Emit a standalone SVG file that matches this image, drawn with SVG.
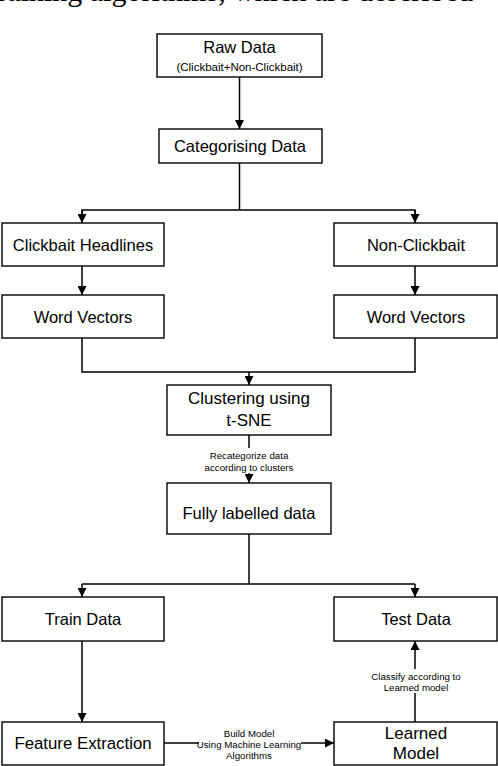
<svg xmlns="http://www.w3.org/2000/svg" width="498" height="766" viewBox="0 0 498 766">
<defs>
<style>
.box{fill:#fff;stroke:#000;stroke-width:1.4}
.t{font-family:"Liberation Sans",Arial,sans-serif;font-size:16.5px;fill:#000;text-anchor:middle}
.s{font-family:"Liberation Sans",Arial,sans-serif;font-size:9.7px;fill:#000;text-anchor:middle}
.ln{fill:none;stroke:#000;stroke-width:1.5}
.bg{fill:#fff;stroke:none}
</style>
<marker id="ah" viewBox="0 0 10 10" refX="10" refY="5" markerWidth="9" markerHeight="9" markerUnits="userSpaceOnUse" orient="auto">
<path d="M0,0 L10,5 L0,10 z" fill="#000"/>
</marker>
</defs>
<rect width="498" height="766" fill="#fff"/>
<text x="-11" y="1" font-family="'Liberation Serif','Times New Roman',serif" font-size="30" fill="#000">training algorithms, which are described</text>

<g id="connectors">
<line class="ln" x1="239.5" y1="77" x2="239.5" y2="129" marker-end="url(#ah)"/>
<polyline class="ln" points="239.5,163 239.5,210"/>
<polyline class="ln" points="82,222.5 82,210 415,210 415,222.5"/>
<line class="ln" x1="82" y1="210" x2="82" y2="223" marker-end="url(#ah)"/>
<line class="ln" x1="415" y1="210" x2="415" y2="223" marker-end="url(#ah)"/>
<line class="ln" x1="82" y1="266" x2="82" y2="295" marker-end="url(#ah)"/>
<line class="ln" x1="415" y1="266" x2="415" y2="295" marker-end="url(#ah)"/>
<polyline class="ln" points="82,338 82,372 415,372 415,338"/>
<line class="ln" x1="249" y1="372" x2="249" y2="385" marker-end="url(#ah)"/>
<line class="ln" x1="249" y1="435" x2="249" y2="483" marker-end="url(#ah)"/>
<rect class="bg" x="205" y="448" width="90" height="25"/>
<text class="s" x="249" y="458.5">Recategorize data</text>
<text class="s" x="249" y="470.5">according to clusters</text>
<polyline class="ln" points="249,534 249,584"/>
<polyline class="ln" points="82,584 415,584"/>
<line class="ln" x1="82" y1="584" x2="82" y2="597" marker-end="url(#ah)"/>
<line class="ln" x1="415" y1="584" x2="415" y2="597" marker-end="url(#ah)"/>
<line class="ln" x1="82" y1="641" x2="82" y2="722" marker-end="url(#ah)"/>
<line class="ln" x1="164" y1="743" x2="334" y2="743" marker-end="url(#ah)"/>
<rect class="bg" x="199" y="738" width="102" height="10"/>
<text class="s" x="249" y="736.5">Build Model</text>
<text class="s" x="249" y="747.5">Using Machine Learning</text>
<text class="s" x="249" y="758.5">Algorithms</text>
<line class="ln" x1="415" y1="722" x2="415" y2="641" marker-end="url(#ah)"/>
<rect class="bg" x="370" y="669" width="92" height="24"/>
<text class="s" x="416" y="679.5">Classify according to</text>
<text class="s" x="416" y="690.5">Learned model</text>
</g>

<g id="raw-data">
<rect class="box" x="157" y="34" width="165" height="43"/>
<text class="t" x="239.5" y="52.5">Raw Data</text>
<text class="t" x="239.5" y="71" style="font-size:11.5px">(Clickbait+Non-Clickbait)</text>
</g>
<g id="categorising">
<rect class="box" x="159" y="129" width="163" height="34"/>
<text class="t" x="240" y="152">Categorising Data</text>
</g>
<g id="clickbait-headlines">
<rect class="box" x="2" y="223" width="162" height="43"/>
<text class="t" x="83" y="251">Clickbait Headlines</text>
</g>
<g id="non-clickbait">
<rect class="box" x="334" y="223" width="163" height="43"/>
<text class="t" x="416" y="251">Non-Clickbait</text>
</g>
<g id="word-vectors-left">
<rect class="box" x="2" y="295" width="162" height="43"/>
<text class="t" x="83" y="322.5">Word Vectors</text>
</g>
<g id="word-vectors-right">
<rect class="box" x="334" y="295" width="163" height="43"/>
<text class="t" x="416" y="322.5">Word Vectors</text>
</g>
<g id="clustering">
<rect class="box" x="167" y="385" width="164" height="50"/>
<text class="t" x="249" y="404" style="font-size:17px">Clustering using</text>
<text class="t" x="249" y="426" style="font-size:17px">t-SNE</text>
</g>
<g id="fully-labelled">
<rect class="box" x="167" y="483" width="164" height="51"/>
<text class="t" x="249" y="519">Fully labelled data</text>
</g>
<g id="train-data">
<rect class="box" x="2" y="597" width="162" height="44"/>
<text class="t" x="83" y="625">Train Data</text>
</g>
<g id="test-data">
<rect class="box" x="334" y="597" width="163" height="44"/>
<text class="t" x="416" y="625">Test Data</text>
</g>
<g id="feature-extraction">
<rect class="box" x="2" y="722" width="162" height="43"/>
<text class="t" x="83" y="749" style="font-size:16.8px">Feature Extraction</text>
</g>
<g id="learned-model">
<rect class="box" x="334" y="722" width="163" height="43"/>
<text class="t" x="416" y="739" style="font-size:17px">Learned</text>
<text class="t" x="416" y="759" style="font-size:17px">Model</text>
</g>
</svg>
